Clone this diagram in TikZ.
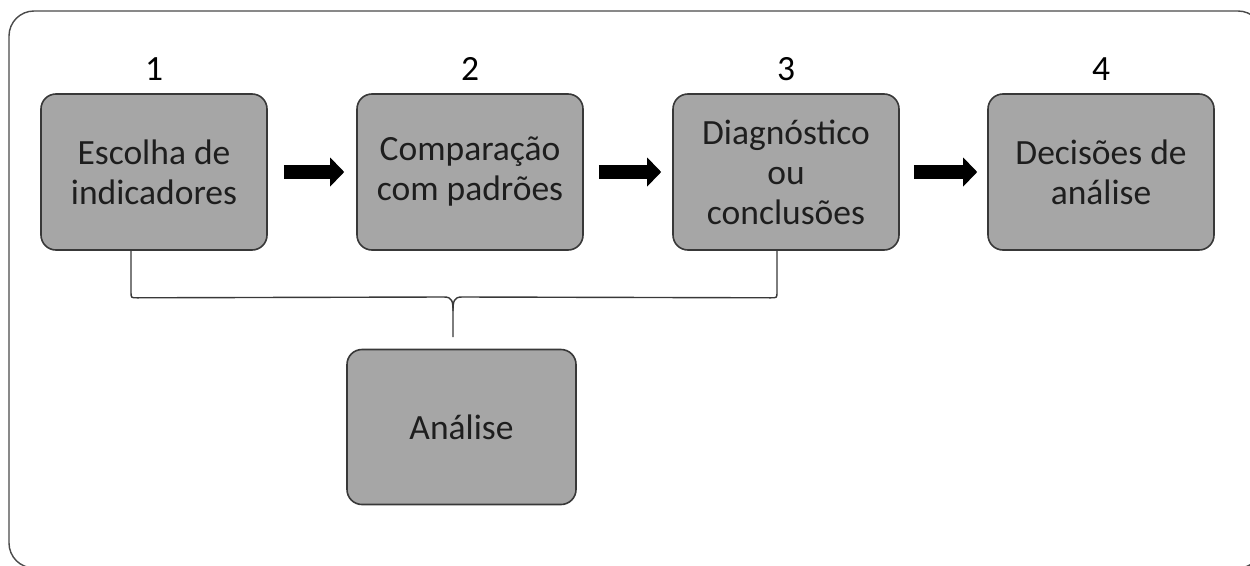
\documentclass[tikz,border=0pt]{standalone}
\usepackage{fontspec}
\setmainfont{Carlito}
\usetikzlibrary{arrows.meta,calc}
\definecolor{boxfill}{HTML}{A6A6A6}
\definecolor{boxline}{HTML}{383838}
\definecolor{txt}{HTML}{1E1E1E}
\definecolor{frameline}{HTML}{4A4A4A}
\begin{document}
\begin{tikzpicture}[x=1pt,y=-1pt,
  stepbox/.style={draw=boxline, fill=boxfill, line width=1.6pt, rounded corners=15pt,
    minimum width=226pt, minimum height=156pt, inner sep=0pt, align=center,
    font=\fontsize{35.5}{40}\selectfont, text=txt},
  numlabel/.style={anchor=base, inner sep=0pt, font=\fontsize{35.5}{40}\selectfont, text=black},
  blockarrow/.style={draw=black, line width=14pt,
    -{Triangle[length=14pt,width=29pt,line width=0pt]}},
  braceline/.style={draw=boxline, line width=1.4pt},
  frame/.style={draw=frameline, line width=1.4pt, rounded corners=25pt}]
\useasboundingbox (0,0) rectangle (1250,565);
\clip (0,0) rectangle (1250,565);
\fill[white] (0,0) rectangle (1250,565);
\draw[frame] (9,11) rectangle (1263,568);

\node[stepbox] (b1) at (154,172) {Escolha de\\indicadores};
\node[stepbox] (b2) at (470,172) {Comparação\\com padrões};
\node[stepbox] (b3) at (786,172) {Diagnóstico\\ou\\conclusões};
\node[stepbox] (b4) at (1101,172) {Decisões de\\análise};
\node[stepbox, minimum width=229pt, minimum height=155pt] (ana) at (461.5,427) {Análise};

\node[numlabel] (n1) at (154,80) {1};
\node[numlabel] (n2) at (470,80) {2};
\node[numlabel] (n3) at (786,80) {3};
\node[numlabel] (n4) at (1101,80) {4};

\draw[blockarrow] ([xshift=16pt]b1.east) -- ([xshift=-12pt]b2.west);
\draw[blockarrow] ([xshift=15pt]b2.east) -- ([xshift=-11pt]b3.west);
\draw[blockarrow] ([xshift=14pt]b3.east) -- ([xshift=-10pt]b4.west);

\coordinate (bl) at ([xshift=-23pt]b1.south);
\coordinate (br) at ([xshift=-9pt]b3.south);
\coordinate (bt) at (453,337);
\draw[braceline] (bl) -- ($(bl)+(0,41)$) .. controls ($(bl)+(0,47)$) .. ($(bl)+(6,47)$)
  -- ($(bt)+(-9,-40)$) .. controls ($(bt)+(-1,-40)$) and ($(bt)+(0,-36)$) .. ($(bt)+(0,-26)$)
  -- (bt);
\draw[braceline] ($(bt)+(0,-26)$) .. controls ($(bt)+(0,-36)$) and ($(bt)+(1,-40)$) .. ($(bt)+(9,-40)$)
  -- ($(br)+(-6,47)$) .. controls ($(br)+(0,47)$) .. ($(br)+(0,41)$) -- (br);
\end{tikzpicture}
\end{document}
